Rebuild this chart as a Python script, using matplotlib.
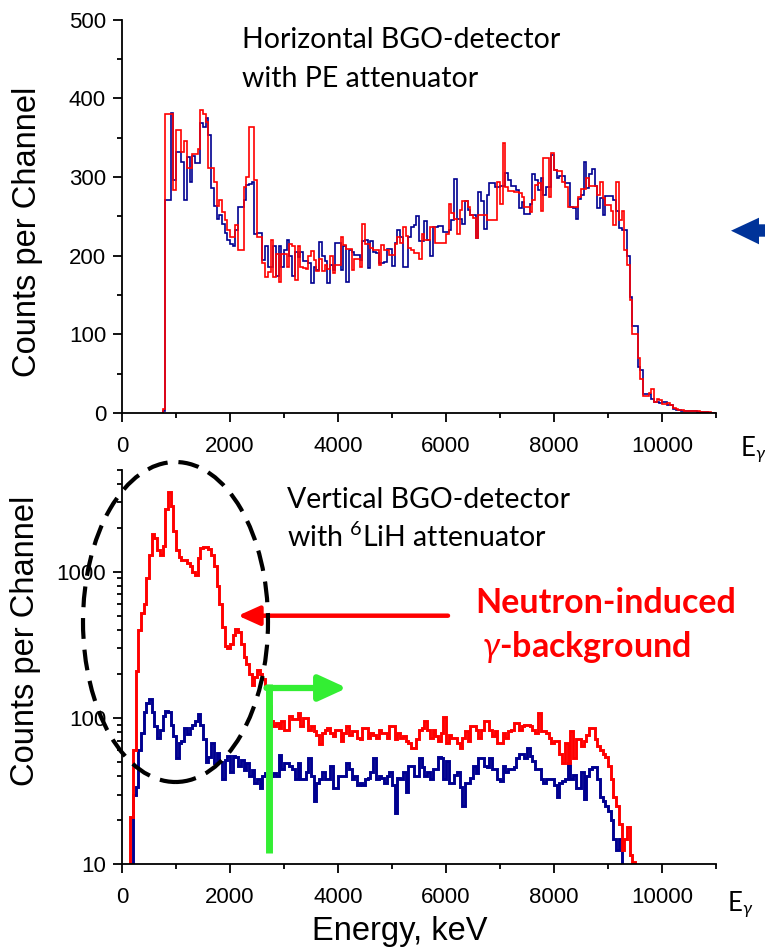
import numpy as np
import matplotlib
matplotlib.use('Agg')
import matplotlib.pyplot as plt
from matplotlib.patches import Ellipse, Polygon
from matplotlib.lines import Line2D
from matplotlib.ticker import MultipleLocator, LogLocator, NullFormatter, FixedLocator

plt.rcParams['font.family'] = ['Liberation Sans', 'DejaVu Sans']
plt.rcParams['mathtext.fontset'] = 'custom'
plt.rcParams['mathtext.rm'] = 'Lato'
plt.rcParams['mathtext.it'] = 'Lato:italic'
plt.rcParams['mathtext.bf'] = 'Lato:bold'

# spectra, 50 keV channels
BIN = 50

# horizontal detector, PE attenuator (first channel starts at 750 keV)
top_start = 750
top_red = [5,
    380, 380, 380, 283, 360, 360, 332, 345, 311, 311,
    329, 329, 335, 385, 380, 370, 311, 311, 294, 263,
    271, 256, 245, 233, 223, 223, 239, 207, 207, 287,
    300, 364, 364, 296, 224, 224, 190, 173, 179, 220,
    173, 202, 167, 202, 202, 186, 215, 212, 169, 212,
    186, 184, 183, 200, 206, 195, 180, 196, 181, 188,
    183, 199, 178, 188, 188, 224, 214, 209, 209, 182,
    196, 196, 186, 240, 215, 215, 210, 207, 207, 188,
    213, 207, 207, 201, 201, 215, 224, 216, 236, 225,
    210, 207, 203, 203, 196, 228, 220, 220, 236, 236,
    216, 216, 216, 216, 228, 266, 254, 247, 228, 258,
    270, 270, 262, 251, 248, 222, 251, 251, 251, 245,
    245, 245, 245, 294, 266, 343, 287, 282, 282, 281,
    281, 280, 275, 262, 262, 255, 271, 290, 292, 257,
    324, 324, 275, 330, 309, 308, 308, 294, 287, 262,
    262, 262, 262, 275, 285, 285, 298, 289, 289, 289,
    277, 294, 273, 264, 264, 257, 239, 294, 245, 257,
    207, 188, 143, 101, 101, 70, 43, 22, 22, 26,
    30, 14, 18, 17, 12, 12, 13, 10, 6, 5,
    4, 4, 3, 3, 2, 3, 2, 2, 1, 1,
    1, 1, 0, 0]
top_blue = [3,
    271, 271, 381, 296, 332, 332, 319, 271, 325, 294,
    327, 318, 318, 368, 363, 375, 353, 286, 263, 247,
    252, 240, 229, 220, 215, 212, 232, 262, 262, 271,
    290, 291, 293, 228, 229, 229, 195, 212, 186, 186,
    212, 174, 212, 186, 207, 220, 200, 174, 205, 198,
    205, 193, 193, 190, 165, 186, 182, 217, 200, 193,
    165, 188, 182, 216, 216, 182, 212, 167, 207, 205,
    201, 201, 194, 218, 220, 184, 218, 205, 203, 190,
    190, 192, 209, 209, 187, 216, 232, 224, 186, 186,
    224, 236, 239, 250, 218, 218, 244, 220, 199, 236,
    236, 237, 237, 230, 230, 232, 245, 297, 247, 247,
    240, 270, 258, 251, 251, 222, 281, 270, 234, 277,
    292, 292, 287, 287, 288, 288, 305, 296, 289, 289,
    283, 260, 268, 253, 253, 266, 304, 296, 283, 299,
    277, 287, 287, 328, 309, 298, 301, 301, 292, 292,
    262, 260, 247, 272, 277, 319, 286, 304, 310, 289,
    261, 273, 252, 276, 276, 276, 271, 257, 235, 232,
    232, 199, 147, 110, 110, 59, 55, 24, 24, 24,
    18, 14, 14, 13, 14, 14, 10, 10, 5, 4,
    4, 3, 3, 3, 2, 2, 2, 1, 1, 1,
    1, 0, 0, 0]

# vertical detector, 6LiH attenuator (first channel starts at 100 keV)
bot_start = 100
bot_red = [5, 21, 60, 210, 400, 520, 600, 900, 1300, 1800,
    1700, 1400, 1300, 1500, 2700, 3500, 2800, 1900, 1400, 1260,
    1200, 1200, 1150, 1100, 1000, 950, 1250, 1450, 1480, 1470,
    1420, 1300, 1100, 800, 600, 420, 310, 300, 320, 370,
    407, 390, 320, 260, 235, 200, 168, 190, 214, 200,
    185, 160, 120, 95, 88, 92, 86, 95, 83, 83,
    103, 99, 99, 108, 88, 100, 100, 83, 88, 81,
    77, 66, 79, 83, 86, 79, 75, 83, 83, 70,
    79, 88, 77, 81, 81, 73, 72, 86, 86, 73,
    79, 77, 73, 83, 79, 79, 73, 88, 88, 72,
    79, 73, 75, 70, 67, 62, 62, 72, 83, 86,
    95, 83, 73, 83, 75, 70, 79, 102, 68, 77,
    73, 73, 68, 62, 73, 81, 70, 88, 88, 83,
    73, 83, 95, 95, 83, 75, 81, 68, 68, 79,
    73, 81, 83, 92, 92, 83, 88, 90, 90, 88,
    83, 79, 108, 81, 81, 79, 73, 68, 70, 70,
    57, 49, 68, 49, 81, 53, 72, 72, 64, 70,
    77, 86, 86, 72, 64, 60, 57, 54, 47, 38,
    29, 25, 19, 12.5, 15, 18, 11.5, 10.3, 5]
bot_blue = [3, 4, 30, 34, 60, 79, 110, 127, 134, 110,
    88, 73, 83, 103, 112, 110, 90, 75, 53, 67,
    70, 85, 78, 85, 90, 95, 107, 90, 72, 50,
    54, 68, 49, 58, 50, 38, 52, 55, 43, 55,
    54, 47, 52, 44, 49, 40, 44, 36, 38, 33,
    40, 42, 42, 40, 42, 40, 56, 45, 49, 49,
    47, 45, 38, 49, 38, 38, 43, 53, 40, 27,
    36, 38, 43, 38, 38, 47, 33, 33, 40, 40,
    40, 49, 45, 38, 40, 35, 36, 35, 38, 39,
    43, 53, 38, 40, 39, 36, 40, 43, 35, 22.4,
    39, 38, 43, 31, 47, 47, 40, 40, 53, 46,
    40, 43, 38, 45, 45, 54, 53, 38, 51, 36,
    36, 41, 43, 34, 25, 36, 36, 39, 47, 42,
    53, 53, 47, 46, 53, 45, 45, 38, 37, 47,
    43, 45, 45, 46, 53, 57, 57, 53, 62, 55,
    51, 45, 45, 38, 36, 38, 38, 38, 35, 29,
    36, 37, 38, 49, 38, 41, 33, 33, 43, 28,
    40, 45, 46, 46, 38, 29, 27, 25, 23, 20,
    15, 12.5, 15, 5]

RED = '#ff0000'
BLUE = '#000090'
GREEN = '#33ee33'

W, H = 765, 951
fig = plt.figure(figsize=(W / 100, H / 100), dpi=100)

def fx(px):
    return px / W

def fy(py):
    return 1 - py / H

def edges(start, vals):
    return start + BIN * np.arange(len(vals) + 1)

ax1 = fig.add_axes([fx(122), fy(413), (716 - 122) / W, (413 - 19.5) / H])
ax2 = fig.add_axes([fx(122), fy(864.3), (716 - 122) / W, (864.3 - 469.5) / H])

ax1.stairs(top_blue, edges(top_start, top_blue), baseline=0, color=BLUE, lw=1.2)
ax1.stairs(top_red, edges(top_start, top_red), baseline=0, color=RED, lw=1.2)
ax1.set_ylim(0, 500)
ax1.yaxis.set_major_locator(MultipleLocator(100))
ax1.yaxis.set_minor_locator(MultipleLocator(50))

ax2.stairs(bot_blue, edges(bot_start, bot_blue), baseline=None, color=BLUE, lw=2.1)
ax2.stairs(bot_red, edges(bot_start, bot_red), baseline=None, color=RED, lw=2.1)
ax2.set_yscale('log')
ax2.set_ylim(10, 5000)
ax2.yaxis.set_major_locator(FixedLocator([10, 100, 1000]))
ax2.yaxis.set_major_formatter(matplotlib.ticker.FixedFormatter(['10', '100', '1000']))
ax2.yaxis.set_minor_locator(LogLocator(base=10, subs=np.arange(2, 10), numticks=20))
ax2.yaxis.set_minor_formatter(NullFormatter())

for ax in (ax1, ax2):
    ax.set_xlim(0, 11000)
    ax.xaxis.set_major_locator(MultipleLocator(2000))
    ax.xaxis.set_minor_locator(MultipleLocator(1000))
    for s in ('top', 'right'):
        ax.spines[s].set_visible(False)
    for s in ('left', 'bottom'):
        ax.spines[s].set_linewidth(1.3)
    ax.tick_params(which='both', direction='out', width=1.3, labelsize=16)
    ax.tick_params(which='major', length=6.5)
    ax.tick_params(which='minor', length=3.5)
    ax.tick_params(axis='x', pad=10)
    ax.tick_params(axis='y', pad=5)
    ax.patch.set_alpha(0)

# axis titles
fig.text(fx(27.5), fy(232), 'Counts per Channel', rotation=90, ha='center', va='center', fontsize=23.5)
fig.text(fx(26), fy(641), 'Counts per Channel', rotation=90, ha='center', va='center', fontsize=23.5)
fig.text(fx(400), fy(940), 'Energy, keV', ha='center', va='baseline', fontsize=23.5)
fig.text(fx(740), fy(457), r'E$_\gamma$', family=['Lato', 'DejaVu Sans'], fontsize=18.5, va='baseline')
fig.text(fx(727), fy(912), r'E$_\gamma$', family=['Lato', 'DejaVu Sans'], fontsize=18.5, va='baseline')

# panel captions
cap = dict(family=['Lato', 'DejaVu Sans'], fontsize=20.5, va='baseline')
fig.text(fx(242), fy(48), 'Horizontal BGO-detector', **cap)
fig.text(fx(242), fy(87), 'with PE attenuator', **cap)
fig.text(fx(287), fy(508), 'Vertical BGO-detector', **cap)
fig.text(fx(287), fy(547), r'with $\mathregular{^6}$LiH attenuator', **cap)
fig.text(fx(475), fy(613), 'Neutron-induced', color=RED, weight='bold',
         family=['Lato', 'DejaVu Sans'], fontsize=24.5, va='baseline')
fig.text(fx(482), fy(657), r'$\gamma$-background', color=RED, weight='bold',
         family=['Lato', 'DejaVu Sans'], fontsize=24.5, va='baseline')

# dashed ellipse around the low-energy part
fig.add_artist(Ellipse((fx(175.5), fy(622)), 185 / W, 320 / H, transform=fig.transFigure,
                       fill=False, ec='black', lw=3.0, ls=(0, (5, 2.6))))

# red arrow
ax2.annotate('', xy=(238, H - 615.7), xytext=(448, H - 615.7), xycoords='figure pixels',
             textcoords='figure pixels',
             arrowprops=dict(arrowstyle='-|>,head_length=1.0,head_width=0.45', color=RED,
                             lw=3.2, mutation_scale=13, shrinkA=0, shrinkB=0))

# green arrow
fig.add_artist(Line2D([fx(269), fx(269)], [fy(853), fy(684)], transform=fig.transFigure,
                      color=GREEN, lw=5, solid_capstyle='butt'))
ax2.annotate('', xy=(347, H - 688), xytext=(266.5, H - 688), xycoords='figure pixels',
             textcoords='figure pixels',
             arrowprops=dict(arrowstyle='-|>,head_length=1.2,head_width=0.55', color=GREEN,
                             lw=4.5, mutation_scale=14, shrinkA=0, shrinkB=0))

# blue block arrow at right edge
pts = [(731, 230.7), (759, 217.7), (759, 224.3), (766, 224.3), (766, 236.7), (759, 236.7), (759, 244.3)]
fig.add_artist(Polygon([(fx(x), fy(y)) for x, y in pts], closed=True, transform=fig.transFigure,
                       fc='#003399', ec='none'))

fig.savefig('out.png', dpi=100)
